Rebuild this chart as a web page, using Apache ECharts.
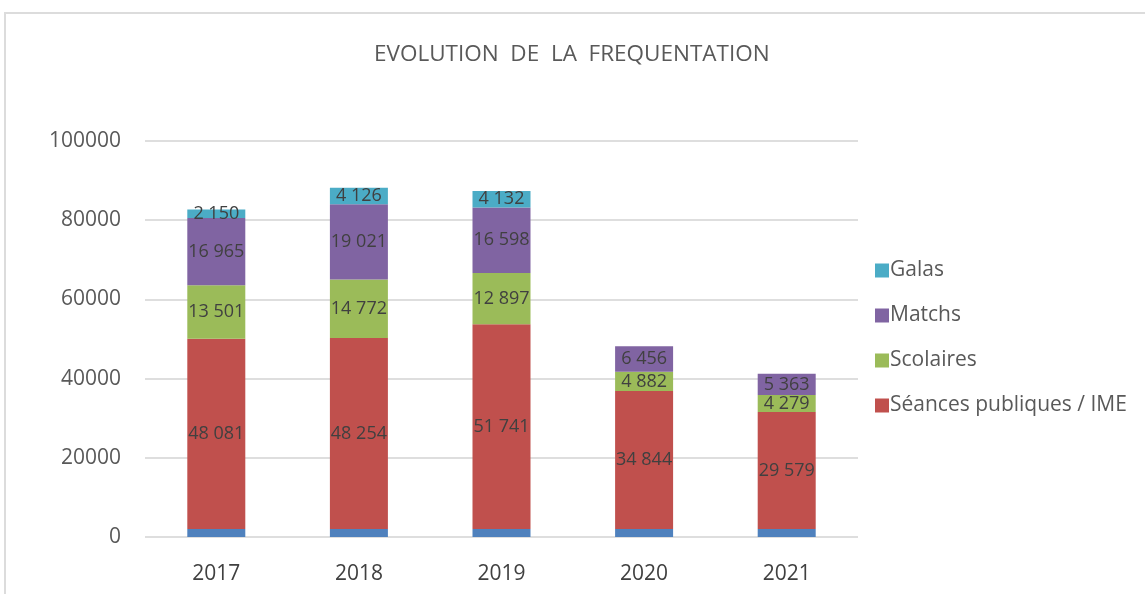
<!DOCTYPE html>
<html>
<head>
<meta charset="utf-8">
<title>Evolution de la fréquentation</title>
<script src="https://cdn.jsdelivr.net/npm/echarts@6/dist/echarts.min.js"></script>
<style>
  html, body { margin: 0; padding: 0; background: #fff; }
  #chart { width: 1145px; height: 594px; }
  /* cadre gris du graphique d'origine */
  .frame {
    position: absolute; left: 4px; top: 12px; right: 0; bottom: 0;
    border-top: 2px solid #dcdcdc; border-left: 2px solid #dcdcdc;
    pointer-events: none;
  }
</style>
</head>
<body>
<div id="chart"></div>
<div class="frame"></div>
<script>
// données
const annees = ['2017', '2018', '2019', '2020', '2021']
const socle = [2000, 2000, 2000, 2000, 2000]
const seances = [48081, 48254, 51741, 34844, 29579]
const scolaires = [13501, 14772, 12897, 4882, 4279]
const matchs = [16965, 19021, 16598, 6456, 5363]
const galas = [2150, 4126, 4132, null, null]
const yTicks = [0, 20000, 40000, 60000, 80000, 100000]

const fmt = v => String(v).replace(/\B(?=(\d{3})+(?!\d))/g, ' ')

const labelStyle = {
  show: true,
  position: 'inside',
  color: '#404040',
  fontSize: 18,
  fontFamily: 'Open Sans',
  formatter: p => (p.value == null ? '' : fmt(p.value))
}

const makeSerie = (name, data, color, withLabel) => ({
  name,
  type: 'bar',
  stack: 'total',
  barWidth: 58,
  data,
  itemStyle: { color },
  label: withLabel ? labelStyle : { show: false },
  emphasis: { disabled: true }
})

const chart = echarts.init(document.getElementById('chart'))

chart.setOption({
  animation: false,
  textStyle: { fontFamily: 'Open Sans' },
  title: {
    text: 'EVOLUTION  DE  LA  FREQUENTATION',
    left: 369,
    top: 38,
    textStyle: { color: '#595959', fontSize: 22.5, fontWeight: 'normal' }
  },
  legend: {
    orient: 'vertical',
    left: 870,
    top: 255,
    itemWidth: 14,
    itemHeight: 14,
    itemGap: 24,
    icon: 'rect',
    data: ['Galas', 'Matchs', 'Scolaires', 'Séances publiques / IME'],
    textStyle: { color: '#595959', fontSize: 21, padding: [0, 0, 0, -4] }
  },
  grid: { left: 145, right: 287, top: 141, bottom: 57 },
  xAxis: {
    type: 'category',
    data: annees,
    axisLine: { show: false },
    axisTick: { show: false },
    axisLabel: { color: '#404040', fontSize: 21, margin: 27 }
  },
  yAxis: {
    type: 'value',
    min: yTicks[0],
    max: yTicks[yTicks.length - 1],
    interval: yTicks[1] - yTicks[0],
    axisLine: { show: false },
    axisTick: { show: false },
    axisLabel: { color: '#595959', fontSize: 21, margin: 24, formatter: v => String(v) },
    splitLine: { lineStyle: { color: '#dedede', width: 2 } }
  },
  series: [
    makeSerie('Socle', socle, '#4F81BD', false),
    makeSerie('Séances publiques / IME', seances, '#C0504D', true),
    makeSerie('Scolaires', scolaires, '#9BBB59', true),
    makeSerie('Matchs', matchs, '#8064A2', true),
    makeSerie('Galas', galas, '#4BACC6', true)
  ]
})
</script>
</body>
</html>
